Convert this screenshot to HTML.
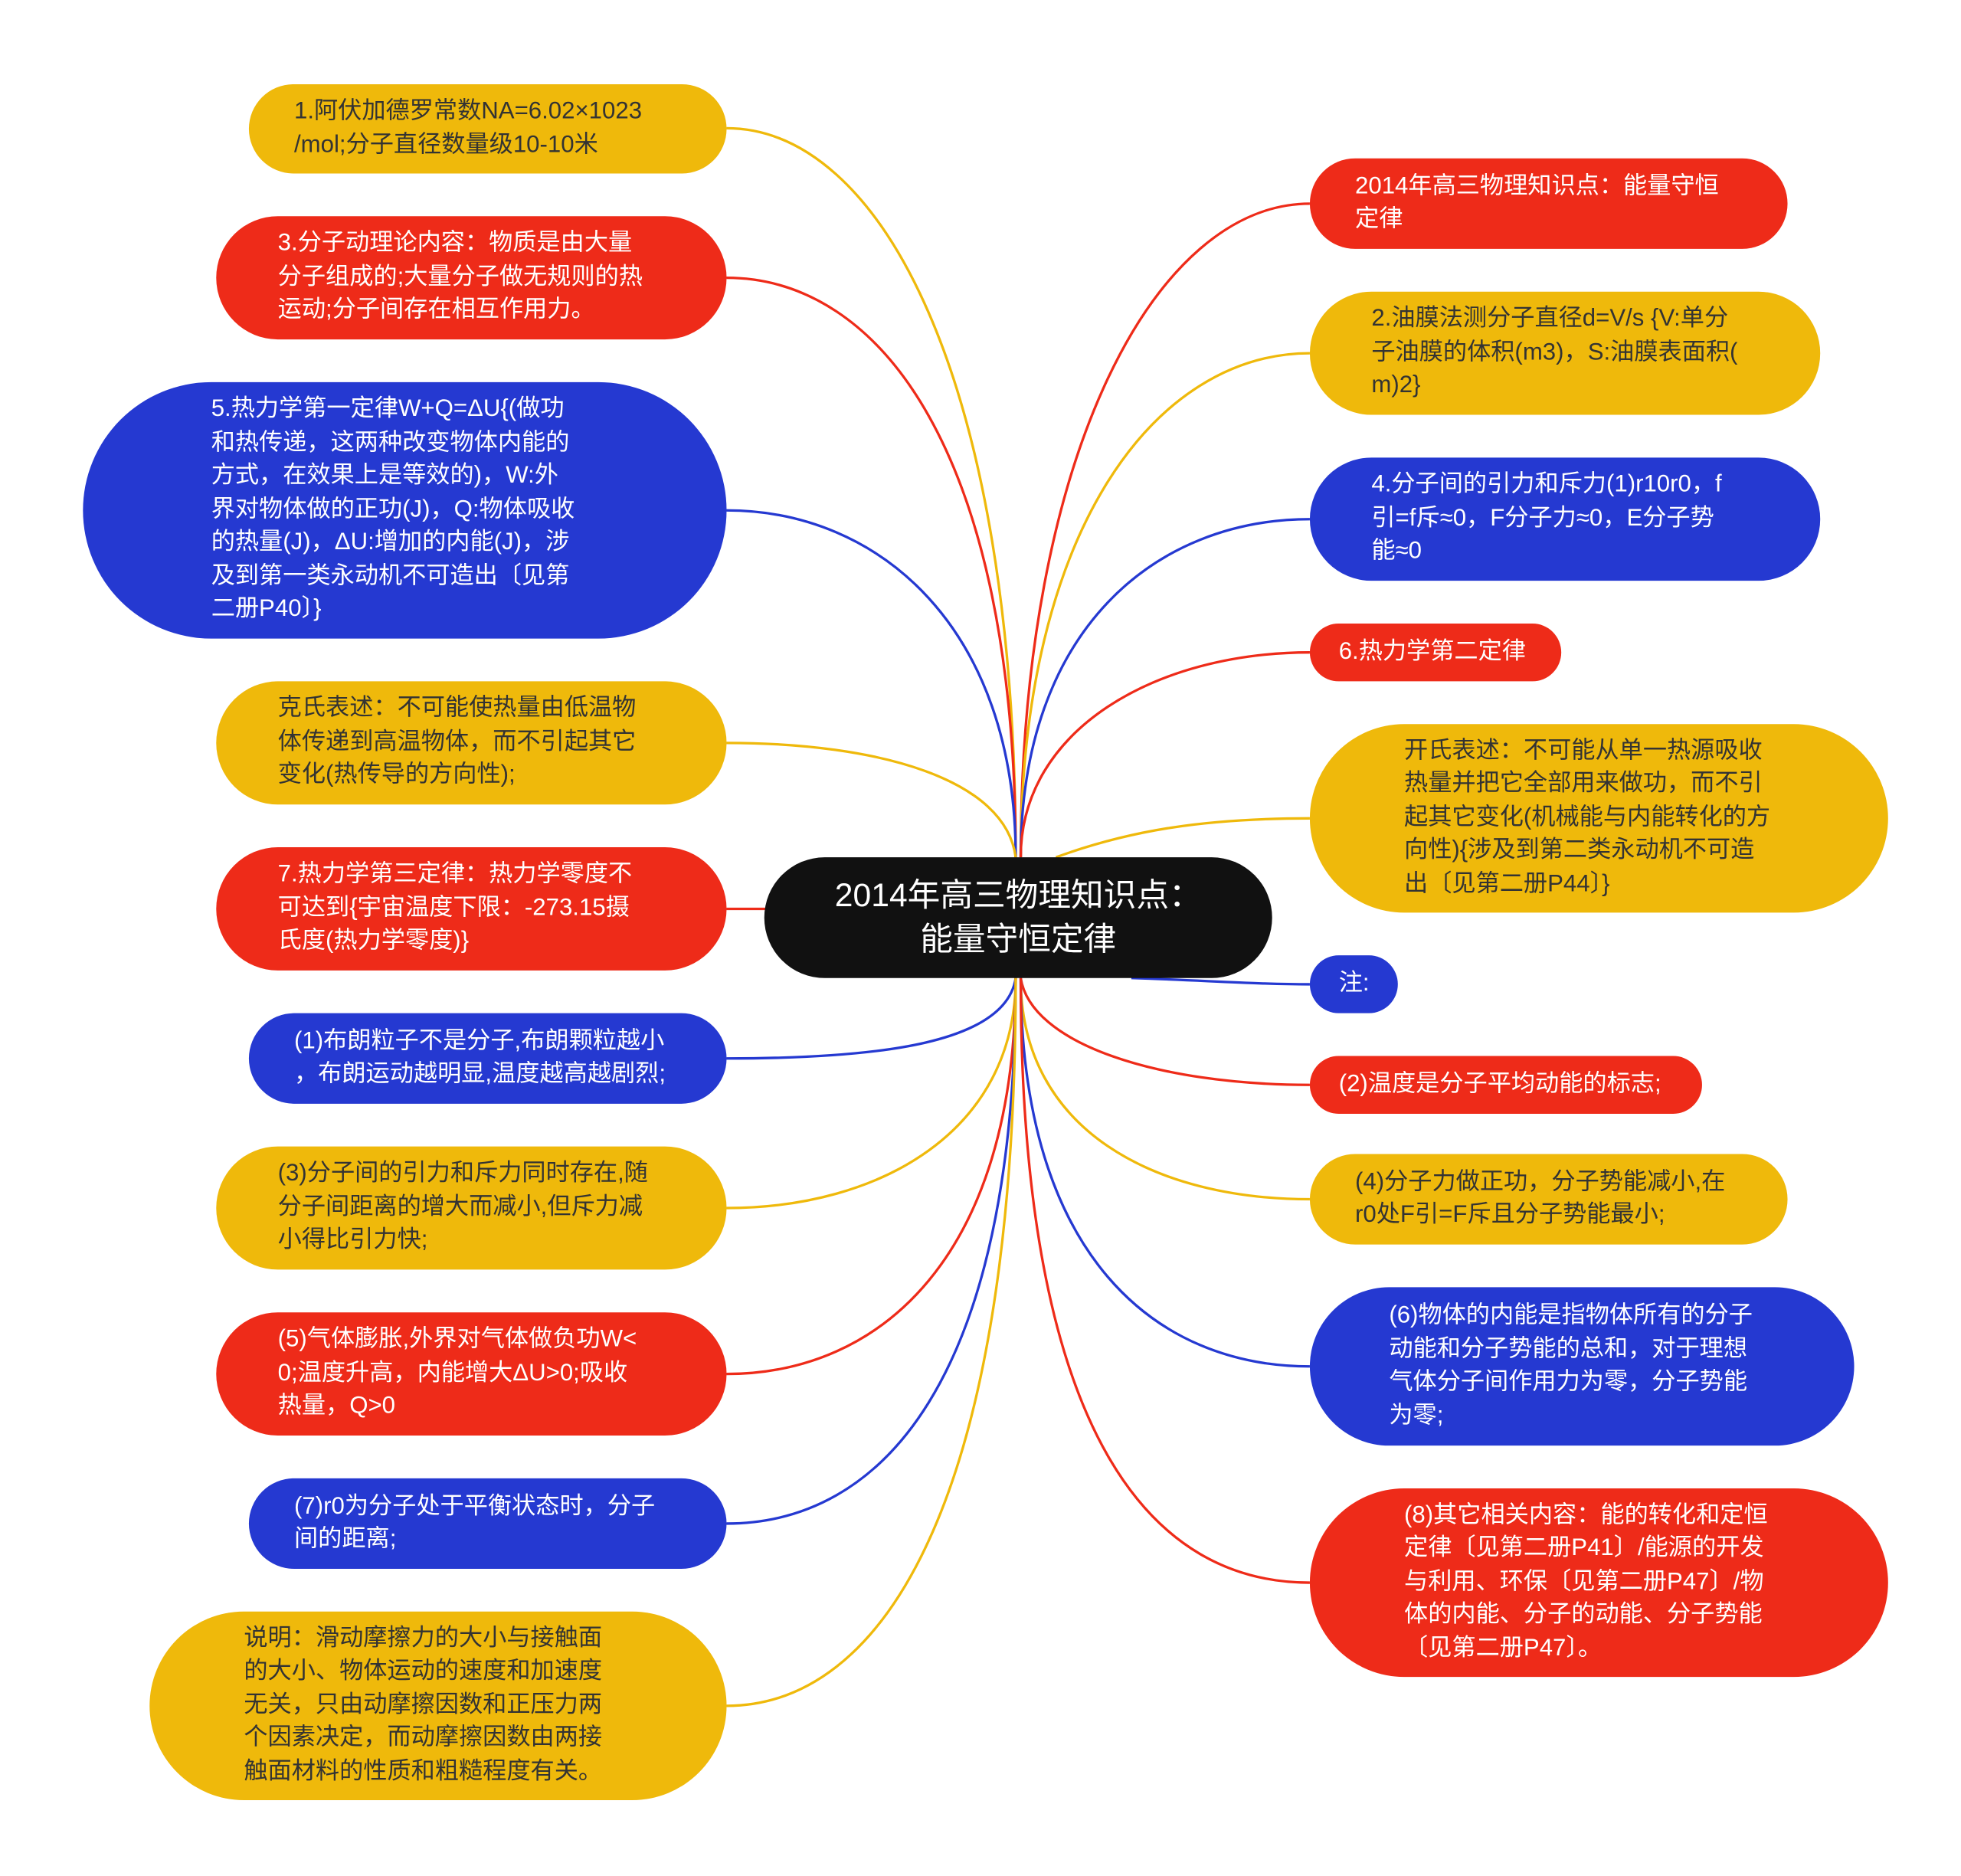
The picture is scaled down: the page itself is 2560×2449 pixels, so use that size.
<!DOCTYPE html>
<html><head><meta charset="utf-8"><style>
html,body{margin:0;padding:0;background:#fff;}
#w{position:absolute;left:0;top:0;width:1560px;height:1492.4px;transform:scale(1.641026);transform-origin:0 0;overflow:hidden;}
.n{position:absolute;box-sizing:border-box;font-family:"Liberation Sans","Noto Sans CJK SC",sans-serif;font-size:19px;line-height:26.5px;display:flex;align-items:center;white-space:nowrap;}
.y{background:#EFB90B;color:#333;}
.r{background:#EE2B19;color:#fff;}
.b{background:#2539D1;color:#fff;}
svg{position:absolute;left:0;top:0;}
</style></head><body><div id="w">
<svg width="1560" height="1492" viewBox="0 0 1560 1492" fill="none" stroke-width="2">
<!-- left upper from top hub -->
<path d="M808,682 C808,300 700,102 578,102" stroke="#EFB90B"/>
<path d="M808,682 C808,360 700,221 578,221" stroke="#EE2B19"/>
<path d="M808,682 C808,500 700,406 578,406" stroke="#2539D1"/>
<path d="M808,682 C800,620 700,591 578,591" stroke="#EFB90B"/>
<path d="M610,723 L578,723" stroke="#EE2B19"/>
<!-- left lower from bottom hub -->
<path d="M808,778 C800,830 700,842 578,842" stroke="#2539D1"/>
<path d="M808,778 C808,900 700,961 578,961" stroke="#EFB90B"/>
<path d="M808,778 C808,1000 700,1093 578,1093" stroke="#EE2B19"/>
<path d="M808,778 C808,1100 700,1212 578,1212" stroke="#2539D1"/>
<path d="M808,778 C808,1200 700,1357 578,1357" stroke="#EFB90B"/>
<!-- right upper -->
<path d="M812,682 C812,360 920,162 1042,162" stroke="#EE2B19"/>
<path d="M812,682 C812,420 920,281 1042,281" stroke="#EFB90B"/>
<path d="M812,682 C812,500 920,413 1042,413" stroke="#2539D1"/>
<path d="M812,682 C812,580 920,519 1042,519" stroke="#EE2B19"/>
<path d="M840,682 C900,660 960,651 1042,651" stroke="#EFB90B"/>
<!-- right lower -->
<path d="M900,778 C960,780 1000,783 1042,783" stroke="#2539D1"/>
<path d="M812,778 C820,830 920,863 1042,863" stroke="#EE2B19"/>
<path d="M812,778 C812,900 920,954 1042,954" stroke="#EFB90B"/>
<path d="M812,778 C812,1000 920,1087 1042,1087" stroke="#2539D1"/>
<path d="M812,778 C812,1150 920,1259 1042,1259" stroke="#EE2B19"/>
</svg>
<div class="n" style="left:608px;top:682px;width:404px;height:96px;border-radius:48px;background:#111;color:#fff;justify-content:center;text-align:center;font-size:26px;line-height:35px;">2014年高三物理知识点：<br>能量守恒定律</div>

<div class="n y" style="left:198px;top:67px;width:380px;height:71px;border-radius:36px;padding-left:36px;">1.阿伏加德罗常数NA=6.02×1023<br>/mol;分子直径数量级10-10米</div>
<div class="n r" style="left:172px;top:172px;width:406px;height:98px;border-radius:49px;padding-left:49px;">3.分子动理论内容：物质是由大量<br>分子组成的;大量分子做无规则的热<br>运动;分子间存在相互作用力。</div>
<div class="n b" style="left:66px;top:304px;width:512px;height:204px;border-radius:102px;padding-left:102px;">5.热力学第一定律W+Q=ΔU{(做功<br>和热传递，这两种改变物体内能的<br>方式，在效果上是等效的)，W:外<br>界对物体做的正功(J)，Q:物体吸收<br>的热量(J)，ΔU:增加的内能(J)，涉<br>及到第一类永动机不可造出〔见第<br>二册P40〕}</div>
<div class="n y" style="left:172px;top:542px;width:406px;height:98px;border-radius:49px;padding-left:49px;">克氏表述：不可能使热量由低温物<br>体传递到高温物体，而不引起其它<br>变化(热传导的方向性);</div>
<div class="n r" style="left:172px;top:674px;width:406px;height:98px;border-radius:49px;padding-left:49px;">7.热力学第三定律：热力学零度不<br>可达到{宇宙温度下限：-273.15摄<br>氏度(热力学零度)}</div>
<div class="n b" style="left:198px;top:806px;width:380px;height:72px;border-radius:36px;padding-left:36px;">(1)布朗粒子不是分子,布朗颗粒越小<br>，布朗运动越明显,温度越高越剧烈;</div>
<div class="n y" style="left:172px;top:912px;width:406px;height:98px;border-radius:49px;padding-left:49px;">(3)分子间的引力和斥力同时存在,随<br>分子间距离的增大而减小,但斥力减<br>小得比引力快;</div>
<div class="n r" style="left:172px;top:1044px;width:406px;height:98px;border-radius:49px;padding-left:49px;">(5)气体膨胀,外界对气体做负功W&lt;<br>0;温度升高，内能增大ΔU&gt;0;吸收<br>热量，Q&gt;0</div>
<div class="n b" style="left:198px;top:1176px;width:380px;height:72px;border-radius:36px;padding-left:36px;">(7)r0为分子处于平衡状态时，分子<br>间的距离;</div>
<div class="n y" style="left:119px;top:1282px;width:459px;height:150px;border-radius:75px;padding-left:75px;">说明：滑动摩擦力的大小与接触面<br>的大小、物体运动的速度和加速度<br>无关，只由动摩擦因数和正压力两<br>个因素决定，而动摩擦因数由两接<br>触面材料的性质和粗糙程度有关。</div>

<div class="n r" style="left:1042px;top:126px;width:380px;height:72px;border-radius:36px;padding-left:36px;">2014年高三物理知识点：能量守恒<br>定律</div>
<div class="n y" style="left:1042px;top:232px;width:406px;height:98px;border-radius:49px;padding-left:49px;">2.油膜法测分子直径d=V/s {V:单分<br>子油膜的体积(m3)，S:油膜表面积(<br>m)2}</div>
<div class="n b" style="left:1042px;top:364px;width:406px;height:98px;border-radius:49px;padding-left:49px;">4.分子间的引力和斥力(1)r10r0，f<br>引=f斥≈0，F分子力≈0，E分子势<br>能≈0</div>
<div class="n r" style="left:1042px;top:496px;width:200px;height:46px;border-radius:23px;padding-left:23px;">6.热力学第二定律</div>
<div class="n y" style="left:1042px;top:576px;width:460px;height:150px;border-radius:75px;padding-left:75px;">开氏表述：不可能从单一热源吸收<br>热量并把它全部用来做功，而不引<br>起其它变化(机械能与内能转化的方<br>向性){涉及到第二类永动机不可造<br>出〔见第二册P44〕}</div>
<div class="n b" style="left:1042px;top:760px;width:70px;height:46px;border-radius:23px;padding-left:23px;">注:</div>
<div class="n r" style="left:1042px;top:840px;width:312px;height:46px;border-radius:23px;padding-left:23px;">(2)温度是分子平均动能的标志;</div>
<div class="n y" style="left:1042px;top:918px;width:380px;height:72px;border-radius:36px;padding-left:36px;">(4)分子力做正功，分子势能减小,在<br>r0处F引=F斥且分子势能最小;</div>
<div class="n b" style="left:1042px;top:1024px;width:433px;height:126px;border-radius:63px;padding-left:63px;">(6)物体的内能是指物体所有的分子<br>动能和分子势能的总和，对于理想<br>气体分子间作用力为零，分子势能<br>为零;</div>
<div class="n r" style="left:1042px;top:1184px;width:460px;height:150px;border-radius:75px;padding-left:75px;">(8)其它相关内容：能的转化和定恒<br>定律〔见第二册P41〕/能源的开发<br>与利用、环保〔见第二册P47〕/物<br>体的内能、分子的动能、分子势能<br>〔见第二册P47〕。</div>
</div></body></html>
